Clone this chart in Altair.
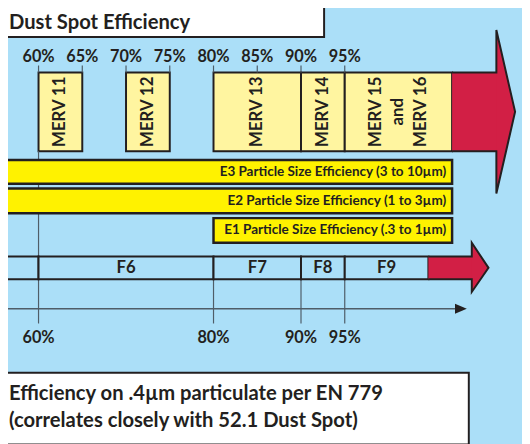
import altair as alt
import pandas as pd

# ---------------- data ----------------
title_text = "Dust Spot Efficiency"
footer_lines = ["Efficiency on .4µm particulate per EN 779",
                "(correlates closely with 52.1 Dust Spot)"]

top_ticks = [60, 65, 70, 75, 80, 85, 90, 95]
top_tick_labels = ["60%", "65%", "70%", "75%", "80%", "85%", "90%", "95%"]

merv_labels = ["MERV 11", "MERV 12", "MERV 13", "MERV 14", "MERV 15\nand\nMERV 16"]
merv_from = [60, 70, 80, 90, 95]
merv_to = [65, 75, 90, 95, None]          # None = open ended (runs into arrow)

e_labels = ["E3 Particle Size Efficiency (3 to 10µm)",
            "E2 Particle Size Efficiency (1 to 3µm)",
            "E1 Particle Size Efficiency (.3 to 1µm)"]
e_from = [None, None, 80]                 # None = runs off the left edge

f_labels = ["", "F6", "F7", "F8", "F9"]
f_from = [None, 60, 80, 90, 95]
f_to = [60, 80, 90, 95, None]

bottom_ticks = [60, 80, 90, 95]
bottom_tick_labels = ["60%", "80%", "90%", "95%"]

# ---------------- layout ----------------
W, H = 522, 436
X0, X1 = 56.51, 115.26          # visible % range
PX = W / (X1 - X0)              # pixels per percent
LEFT = 50.0                     # off-canvas left
MERV_END, TOP_HEAD, TOP_TIP = 107.27, 112.33, 114.47
F9_END, F_HEAD, F_TIP = 104.56, 109.52, 111.43
AXIS_HEAD, AXIS_TIP = 107.6, 108.95
TITLE_END, FOOTER_END = 92.64, 109.18
MERV_LINE_GAP = 23              # px between stacked rotated lines

ROW = {
    "title": (-5, 26, 12),
    "toplab": 46,
    "toptick": (55, 62),
    "merv": (62, 142, 102),
    "tophead": (19, 185),
    "E": [(151, 175), (180, 205), (210, 235)],
    "F": (249, 272, 260.5),
    "fhead": (235, 285),
    "guide60": (142, 317),
    "guide": (272, 317),
    "axis": 302,
    "axhead": (297, 307),
    "botlab": 332,
    "footer": (367, 440),
    "footlines": [389, 416],
}

BG = "#ABDFF8"
INK = "#231F20"
PALE = "#FFF5A0"
YELLOW = "#FFF200"
RED = "#D21F45"
GUIDE = "#4F5D68"
FONT = "Lato"

xs = alt.Scale(domain=[X0, X1], nice=False, zero=False)
ys = alt.Scale(domain=[0, H], reverse=True, nice=False, zero=False)


def X(f):
    return alt.X(f"{f}:Q", scale=xs, axis=None)


def Y(f):
    return alt.Y(f"{f}:Q", scale=ys, axis=None)


def rects(df, **mk):
    return alt.Chart(df).mark_rect(**mk).encode(
        x=X("x"), x2=alt.X2("x2"), y=Y("y"), y2=alt.Y2("y2"))


def texts(df, **mk):
    return alt.Chart(df).mark_text(font=FONT, color=INK, **mk).encode(
        x=X("x"), y=Y("y"), text="t:N")


# MERV boxes
mt, mb, mc = ROW["merv"]
merv_df = pd.DataFrame({
    "t": merv_labels,
    "x": merv_from,
    "x2": [v if v is not None else MERV_END for v in merv_to],
})
merv_df["y"], merv_df["y2"] = mt, mb
rows = []
for _, r in merv_df.iterrows():
    lines = r["t"].split("\n")
    cx = (r["x"] + r["x2"]) / 2
    for i, ln in enumerate(lines):
        off = (i - (len(lines) - 1) / 2) * MERV_LINE_GAP / PX
        rows.append({"t": ln, "x": cx + off, "y": mc})
merv_txt = pd.DataFrame(rows)

merv_rect = rects(merv_df, fill=PALE, stroke=INK, strokeWidth=2)
merv_text = texts(merv_txt, angle=270, align="center", baseline="middle",
                  fontSize=17, fontWeight="bold")

# top ticks
tt_df = pd.DataFrame({"x": top_ticks, "t": top_tick_labels})
tt_df["y"], tt_df["y2"] = ROW["toptick"]
top_tick_rule = alt.Chart(tt_df).mark_rule(color=GUIDE, strokeWidth=1.2).encode(
    x=X("x"), y=Y("y"), y2=alt.Y2("y2"))
top_lab = texts(tt_df.assign(y=ROW["toplab"]), align="center", baseline="middle",
                fontSize=16.5, fontWeight="bold")

# guide lines
g_df = pd.DataFrame({"x": bottom_ticks})
g_df["y"] = [ROW["guide60"][0] if v == 60 else ROW["guide"][0] for v in bottom_ticks]
g_df["y2"] = [ROW["guide60"][1] if v == 60 else ROW["guide"][1] for v in bottom_ticks]
guides = alt.Chart(g_df).mark_rule(color=GUIDE, strokeWidth=1.2).encode(
    x=X("x"), y=Y("y"), y2=alt.Y2("y2"))

# E bars
e_df = pd.DataFrame({
    "t": e_labels,
    "x": [v if v is not None else LEFT for v in e_from],
    "x2": MERV_END,
    "y": [r[0] for r in ROW["E"]],
    "y2": [r[1] for r in ROW["E"]],
})
e_rect = rects(e_df, fill=YELLOW, stroke=INK, strokeWidth=2.5)
e_text = texts(e_df.assign(x=MERV_END, y=(e_df["y"] + e_df["y2"]) / 2),
               align="right", baseline="middle", dx=-6, fontSize=13.7, fontWeight="bold")

# F row
ft, fb, fc = ROW["F"]
f_df = pd.DataFrame({
    "t": f_labels,
    "x": [v if v is not None else LEFT for v in f_from],
    "x2": [v if v is not None else F9_END for v in f_to],
})
f_df["y"], f_df["y2"] = ft, fb
f_rect = rects(f_df, fill=BG, stroke=INK, strokeWidth=2)
f_text = texts(f_df.assign(x=(f_df["x"] + f_df["x2"]) / 2, y=fc)[f_df["t"] != ""],
               align="center", baseline="middle", fontSize=17, fontWeight="bold")


def arrow(body_from, head, tip, top, bot, htop, hbot):
    mid = (top + bot) / 2
    body = rects(pd.DataFrame({"x": [body_from], "x2": [head + 0.1],
                               "y": [top], "y2": [bot]}), fill=RED)
    headdf = pd.DataFrame({"x": [head, tip], "y": [htop, mid], "y2": [hbot, mid]})
    headm = alt.Chart(headdf).mark_area(color=RED, opacity=1).encode(
        x=X("x"), y=Y("y"), y2=alt.Y2("y2"))
    pts = pd.DataFrame({
        "x": [body_from, head, head, tip, head, head, body_from],
        "y": [top, top, htop, mid, hbot, bot, bot],
        "i": list(range(7)),
    })
    outline = alt.Chart(pts).mark_line(color=INK, strokeWidth=2, strokeJoin="miter").encode(
        x=X("x"), y=Y("y"), order="i:Q")
    return body + headm + outline


top_arrow = arrow(MERV_END, TOP_HEAD, TOP_TIP, mt, mb, *ROW["tophead"])
f_arrow = arrow(F9_END, F_HEAD, F_TIP, ft, fb, *ROW["fhead"])

# bottom axis
ax_df = pd.DataFrame({"x": [LEFT], "x2": [AXIS_HEAD], "y": [ROW["axis"]]})
axis_line = alt.Chart(ax_df).mark_rule(color=GUIDE, strokeWidth=1.5).encode(
    x=X("x"), x2=alt.X2("x2"), y=Y("y"))
ah = ROW["axhead"]
axh_df = pd.DataFrame({"x": [AXIS_HEAD, AXIS_TIP], "y": [ah[0], ROW["axis"]],
                       "y2": [ah[1], ROW["axis"]]})
axis_head = alt.Chart(axh_df).mark_area(color=INK).encode(
    x=X("x"), y=Y("y"), y2=alt.Y2("y2"))
bot_lab = texts(pd.DataFrame({"x": bottom_ticks, "t": bottom_tick_labels, "y": ROW["botlab"]}),
                align="center", baseline="middle", fontSize=16.5, fontWeight="bold")

# title & footer
tt, tb, tc = ROW["title"]
title_rect = rects(pd.DataFrame({"x": [LEFT], "x2": [TITLE_END], "y": [tt], "y2": [tb]}),
                   fill="white", stroke=INK, strokeWidth=2)
title_txt = texts(pd.DataFrame({"x": [X0], "y": [tc], "t": [title_text]}),
                  align="left", baseline="middle", dx=1, fontSize=20.5, fontWeight="bold")
fo = ROW["footer"]
foot_rect = rects(pd.DataFrame({"x": [LEFT], "x2": [FOOTER_END], "y": [fo[0]], "y2": [fo[1]]}),
                  fill="white", stroke=INK, strokeWidth=2)
foot_txt = texts(pd.DataFrame({"x": [X0, X0], "y": ROW["footlines"], "t": footer_lines}),
                 align="left", baseline="middle", dx=1, fontSize=20.5, fontWeight="bold")

chart = alt.layer(
    merv_rect, merv_text, top_tick_rule, top_lab,
    guides, e_rect, e_text,
    f_rect, f_text,
    top_arrow, f_arrow,
    axis_line, axis_head, bot_lab,
    title_rect, title_txt, foot_rect, foot_txt,
).properties(
    width=W, height=H, padding=0, autosize=alt.AutoSizeParams(type="none"),
    background=BG,
).configure_view(stroke=None)

chart.save("out.html", embed_options={"renderer": "svg", "actions": False})
